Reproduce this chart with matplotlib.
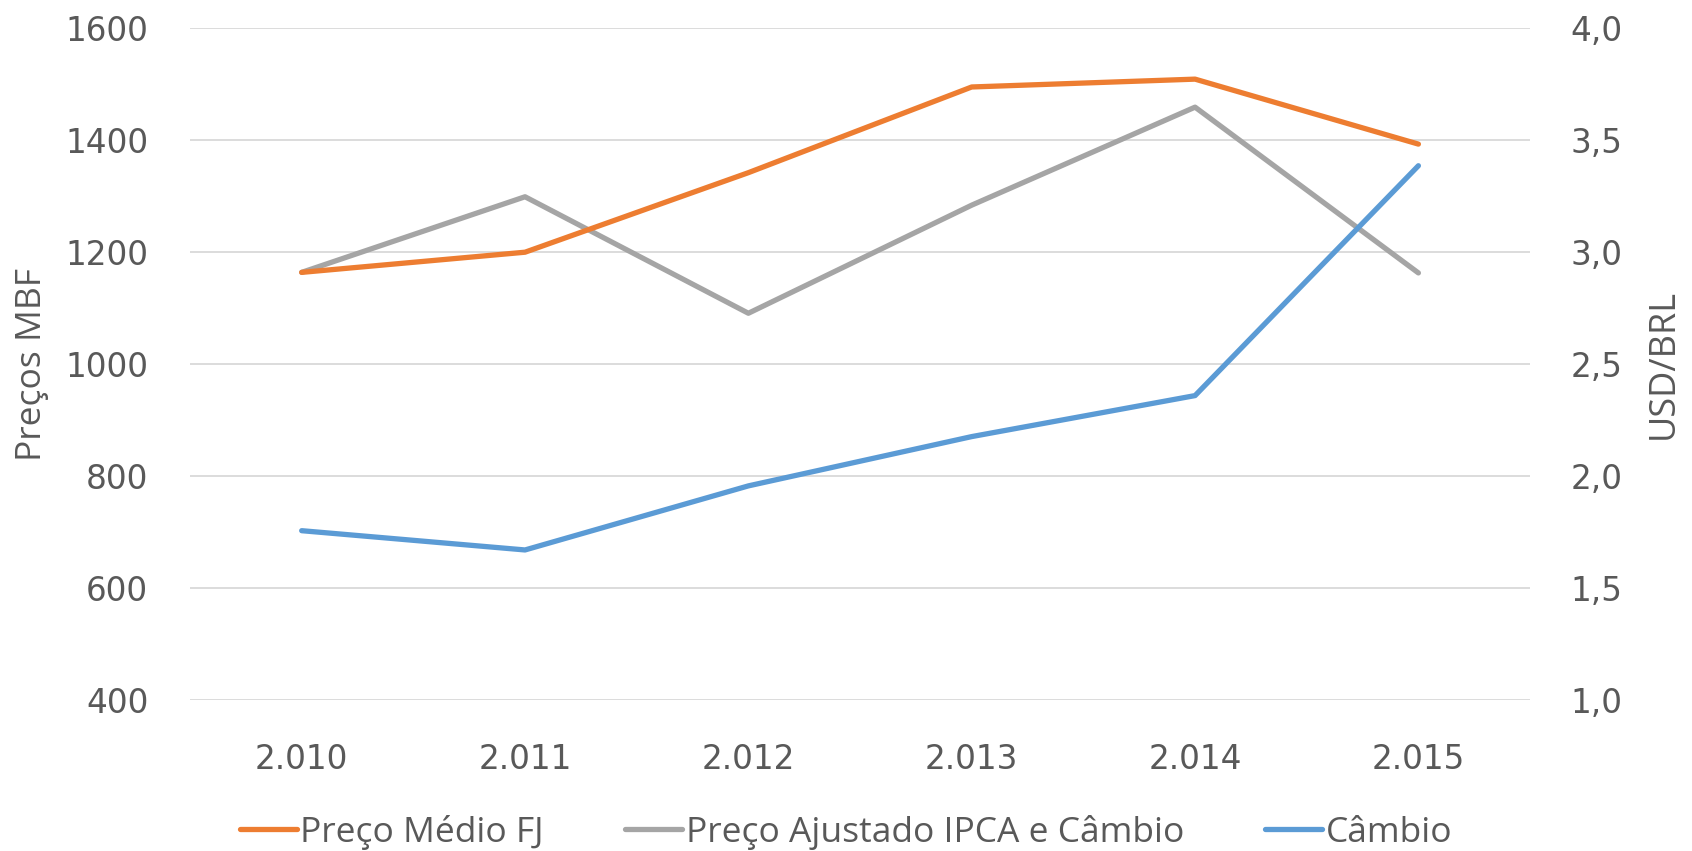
import matplotlib
matplotlib.use("Agg")
from matplotlib import pyplot as plt
from matplotlib import font_manager
import numpy as np

# data
years = ["2.010", "2.011", "2.012", "2.013", "2.014", "2.015"]
preco_medio = [1164, 1200, 1342, 1495, 1509, 1393]
preco_ajustado = [1164, 1299, 1091, 1284, 1459, 1163]
cambio = [1.757, 1.671, 1.957, 2.177, 2.360, 3.386]

left_ticks = [400, 600, 800, 1000, 1200, 1400, 1600]
right_ticks = [1.0, 1.5, 2.0, 2.5, 3.0, 3.5, 4.0]

c_orange = "#ED7D31"
c_gray = "#A5A5A5"
c_blue = "#5B9BD5"
txt = "#595959"

installed = {f.name for f in font_manager.fontManager.ttflist}
narrow = "Liberation Sans Narrow" if "Liberation Sans Narrow" in installed else "Open Sans"
tick_font = ["DejaVu Sans"]
label_font = [narrow, "DejaVu Sans"]

fig = plt.figure(figsize=(16.92, 8.51), dpi=100)
ax = fig.add_axes([0.1123, 0.1771, 0.7920, 0.7898])
ax2 = ax.twinx()

x = np.arange(len(years))
lw = 3.8
l1, = ax.plot(x, preco_medio, color=c_orange, lw=lw, solid_capstyle="round", label="Preço Médio FJ", zorder=3)
l2, = ax.plot(x, preco_ajustado, color=c_gray, lw=lw, solid_capstyle="round", label="Preço Ajustado IPCA e Câmbio", zorder=2)
l3, = ax2.plot(x, cambio, color=c_blue, lw=lw, solid_capstyle="round", label="Câmbio", zorder=3)

ax.set_xlim(-0.5, len(years) - 0.5)
ax.set_ylim(400, 1600)
ax2.set_ylim(1.0, 4.0)

ax.set_xticks(x)
ax.set_xticklabels(years)
ax.set_yticks(left_ticks)
ax.set_yticklabels([str(v) for v in left_ticks])
ax2.set_yticks(right_ticks)
ax2.set_yticklabels([f"{v:.1f}".replace(".", ",") for v in right_ticks])

ax.grid(axis="y", color="#D9D9D9", lw=1.3, zorder=0)
ax.set_axisbelow(True)
for a in (ax, ax2):
    for s in a.spines.values():
        s.set_visible(False)
    a.tick_params(length=0, colors=txt, labelsize=23.5)
    for lab in a.get_xticklabels() + a.get_yticklabels():
        lab.set_family(tick_font)
ax.tick_params(axis="x", pad=31)
ax.tick_params(axis="y", pad=30)
ax2.tick_params(axis="y", pad=29)

ax.set_ylabel("Preços MBF", color=txt, fontsize=25.5, family=label_font)
ax.yaxis.set_label_coords(-0.1055, 0.5)
ax2.set_ylabel("USD/BRL", color=txt, fontsize=26, family=label_font, rotation=90)
ax2.yaxis.set_label_coords(1.0863, 0.5)

fig.legend(handles=[l1, l2, l3], loc="center", bbox_to_anchor=(0.5, 0.022), ncol=3,
           frameon=False, handlelength=1.6, handletextpad=0.1, columnspacing=2.3,
           prop={"family": label_font, "size": 25.5}, labelcolor=txt)

fig.savefig("out.png", dpi=100)
